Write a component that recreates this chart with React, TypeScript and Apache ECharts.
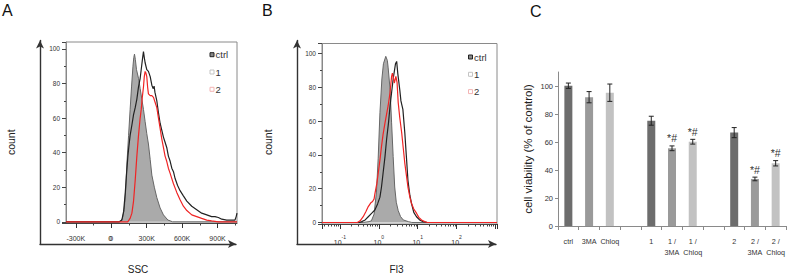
import React, { useEffect, useRef } from 'react';
import * as echarts from 'echarts';

// ---------- Panel A: SSC histograms (x in thousands) ----------
const sscCtrlX = [-383, 60, 80, 95, 110, 122, 133, 147, 160, 172, 184, 191, 197, 204, 214, 231, 245, 259, 273, 287, 301, 315, 330, 344, 365, 386, 414, 442, 480, 520, 1065];
const sscCtrlY = [0, 0, 0.5, 2, 7, 18, 34, 50, 65, 78, 90, 95, 97, 94, 88, 83, 77, 71, 65, 58, 51, 45, 36, 27, 20, 14, 8, 4, 1, 0, 0];
const ssc1X = [-383, 70, 90, 105, 118, 130, 141, 150, 160, 175, 189, 203, 217, 231, 245, 259, 266, 273, 280, 287, 301, 315, 330, 344, 356, 363, 370, 386, 400, 414, 428, 442, 456, 470, 484, 499, 513, 527, 541, 562, 583, 611, 640, 682, 724, 766, 809, 850, 879, 907, 936, 978, 1020, 1048, 1058, 1065];
const ssc1Y = [0, 0, 1, 6, 16, 28, 38, 44, 50, 56, 62, 66, 71, 78, 83, 91, 95, 98.5, 95, 92, 88, 87, 84, 79, 77, 78.5, 75, 70, 63, 57, 53, 49, 46, 43, 38, 35, 31, 29, 25, 21, 18, 15, 12, 9, 7, 5, 4, 3, 3, 2.5, 1.5, 1, 1, 1, 3, 5];
const ssc2X = [-383, 140, 160, 175, 189, 203, 217, 231, 245, 254, 263, 273, 280, 287, 294, 301, 308, 315, 330, 344, 358, 372, 386, 400, 414, 428, 442, 456, 470, 484, 499, 513, 527, 555, 583, 611, 640, 682, 724, 766, 809, 850, 907, 1065];
const ssc2Y = [0, 0, 2, 5, 12, 24, 38, 50, 60, 65, 72, 78, 84, 87, 86, 84, 78, 74, 73, 73, 72, 69, 66, 60, 54, 48, 43, 38, 35, 31, 28, 25, 22, 17, 12.7, 9, 6.5, 4, 3, 2, 1, 0.5, 0, 0];
const sscTicks = [-300, 0, 300, 600, 900];

// ---------- Panel B: Fl3 histograms (log intensity) ----------
const flCtrlX = [0.0347, 0.398, 0.562, 0.646, 0.759, 0.871, 0.966, 1.072, 1.202, 1.318, 1.514, 1.66, 1.738, 1.95, 2.138, 2.344, 2.57, 2.818, 3.162, 3.631, 4.266, 5.754, 7.079, 1096];
const flCtrlY = [0, 0, 0.5, 1, 5, 18, 38, 65, 85, 94, 98.4, 96, 92, 79, 59, 39, 21, 12, 7, 3.5, 1.5, 0.5, 0, 0];
const fl1X = [0.0347, 0.316, 0.363, 0.447, 0.537, 0.661, 0.794, 0.933, 1.072, 1.175, 1.288, 1.445, 1.585, 1.778, 1.95, 2.138, 2.344, 2.57, 2.692, 2.884, 3.09, 3.467, 3.715, 3.89, 4.169, 4.677, 5.129, 5.623, 6.31, 6.918, 7.943, 9.333, 11.22, 13.8, 17.78, 1096];
const fl1Y = [0, 0, 0.5, 1.5, 3.4, 5.5, 7.4, 11, 15, 21, 29, 39, 49, 59, 69, 77, 85, 91, 94, 95.4, 88, 78.6, 72, 70, 67, 53, 39, 25, 16, 11.4, 6, 3.4, 1.5, 0.5, 0, 0];
const fl2X = [0.0347, 0.282, 0.331, 0.398, 0.468, 0.537, 0.617, 0.692, 0.759, 0.794, 0.891, 0.966, 1.072, 1.175, 1.288, 1.445, 1.585, 1.738, 1.95, 2.138, 2.239, 2.399, 2.512, 2.754, 2.951, 3.162, 3.467, 3.89, 4.266, 4.677, 5.129, 5.623, 6.31, 6.918, 7.943, 9.333, 10.72, 12.59, 15.14, 17.78, 1096];
const fl2Y = [0, 0, 1, 3.4, 6.5, 9.4, 11.5, 12.4, 14, 17, 23, 29, 37, 45, 52, 59, 64, 69, 77, 86.5, 88.5, 85, 82.6, 86.5, 83, 71, 62, 53, 44, 35, 28, 21, 15, 11.4, 8, 5.5, 3, 1.5, 0.5, 0, 0];
const flDecades = [-1, 0, 1, 2];

// ---------- Panel C: cell viability ----------
const cCategories = ['ctrl', '3MA', 'Chloq', '', '1', '1 /\n3MA', '1 /\nChloq', '', '2', '2 /\n3MA', '2 /\nChloq'];
const cMeans: (number | null)[] = [100.2, 92, 95.2, null, 75.2, 55.5, 60.2, null, 66.7, 33.6, 44.8];
const cErrors: (number | null)[] = [1.9, 4, 6.2, null, 3.2, 1.7, 1.7, null, 3.6, 1.3, 1.9];
const cMarks = ['', '', '', '', '', '*#', '*#', '', '', '*#', '*#'];
const cShade = [0, 1, 2, -1, 0, 1, 2, -1, 0, 1, 2];

const legendNames = ['ctrl', '1', '2'];

const FONT = "'Liberation Sans', Arial, sans-serif";

const zip = (xs: number[], ys: number[]) => xs.map((x, i) => [x, ys[i]]);

function arrowGrid(gridIndex: number, xName: string, yName: string) {
  const line = { show: true, symbol: ['none', 'arrow'], symbolSize: [6, 8], lineStyle: { color: '#333', width: 1.4 }, onZero: false };
  return {
    x: {
      gridIndex, type: 'value', min: 0, max: 1, axisLine: line, axisTick: { show: false }, axisLabel: { show: false }, splitLine: { show: false },
      name: xName, nameLocation: 'middle', nameGap: 20, nameTextStyle: { fontSize: 10, color: '#222', fontFamily: FONT },
    },
    y: {
      gridIndex, type: 'value', min: 0, max: 1, axisLine: line, axisTick: { show: false }, axisLabel: { show: false }, splitLine: { show: false },
      name: yName, nameLocation: 'middle', nameGap: 24, nameRotate: 90, nameTextStyle: { fontSize: 10.5, color: '#222', fontFamily: FONT },
    },
  };
}

function histYAxis(gridIndex: number, min: number, max: number) {
  return {
    gridIndex, type: 'value', min, max, splitNumber: 5,
    axisLine: { show: true, onZero: false, lineStyle: { color: '#888' } },
    axisTick: { show: true, length: 4, lineStyle: { color: '#444' } },
    minorTick: { show: true, splitNumber: 2, length: 2, lineStyle: { color: '#444' } },
    axisLabel: {
      fontSize: 6.5, color: '#333', margin: 6, fontFamily: FONT,
      formatter: (v: number) => (Math.abs(v - Math.round(v)) < 1e-6 && Math.round(v) % 20 === 0 ? String(Math.abs(Math.round(v))) : ''),
    },
    splitLine: { show: false },
  };
}

function legendGraphics(prefix: string, x: number, y: number) {
  const styles = [
    { fill: '#888', stroke: '#222' },
    { fill: '#fff', stroke: '#c4c4c4' },
    { fill: '#fff', stroke: '#f3b4b4' },
  ];
  const out: any[] = [];
  legendNames.forEach((n, i) => {
    const cy = y + i * 17.3;
    out.push({ id: `${prefix}-icon-${i}`, type: 'rect', shape: { x, y: cy - 2, width: 4, height: 4 }, style: { ...styles[i], lineWidth: 1 } });
    out.push({ id: `${prefix}-text-${i}`, type: 'text', x: x + 5.5, y: cy, style: { text: n, fontSize: 9.5, fill: '#333', fontFamily: FONT, verticalAlign: 'middle', align: 'left' } });
  });
  return out;
}

export default function App() {
  const ref = useRef<HTMLDivElement>(null);
  useEffect(() => {
    const chart = echarts.init(ref.current!, null, { renderer: 'svg' });
    const aArrow = arrowGrid(1, 'SSC', 'count');
    const bArrow = arrowGrid(3, 'Fl3', 'count');
    const shades = ['#6d6d6d', '#9a9a9a', '#c2c2c2'];
    const aGridBottom = 42 + 181;
    const aLabelMargin = 12;

    const option: any = {
      animation: false,
      textStyle: { fontFamily: FONT },
      grid: [
        { left: 66, top: 42, width: 171, height: 181, show: true, borderColor: '#8a8a8a', borderWidth: 1, backgroundColor: 'transparent' },
        { left: 40, top: 40.5, width: 196, height: 209.5 },
        { left: 322, top: 43.5, width: 175, height: 180.5, show: true, borderColor: '#8a8a8a', borderWidth: 1, backgroundColor: 'transparent' },
        { left: 297, top: 40.5, width: 199, height: 209.5 },
        { left: 558, top: 72, width: 229, height: 154 },
      ],
      xAxis: [
        {
          gridIndex: 0, type: 'value', min: -383, max: 1065, splitNumber: 5,
          axisLine: { show: true, onZero: false, lineStyle: { color: '#444' } },
          axisTick: { show: true, length: 5, customValues: sscTicks, lineStyle: { color: '#333' } },
          minorTick: { show: true, splitNumber: 2, length: 2.5, lineStyle: { color: '#444' } },
          axisLabel: {
            fontSize: 7, color: '#333', margin: aLabelMargin, fontFamily: FONT, customValues: sscTicks, hideOverlap: false,
            formatter: (v: number) => { const r = Math.round(v); return r === 0 ? '0' : `${r}K`; },
          },
          splitLine: { show: false },
        },
        aArrow.x,
        {
          gridIndex: 2, type: 'log', logBase: 10, min: 0.0347, max: 1096,
          axisLine: { show: true, onZero: false, lineStyle: { color: '#444' } },
          axisTick: { show: true, length: 5, lineStyle: { color: '#333' } },
          minorTick: { show: true, splitNumber: 9, length: 2.5, lineStyle: { color: '#444' } },
          axisLabel: {
            color: '#333', margin: 10, fontFamily: FONT,
            formatter: (v: number) => {
              const l = Math.log10(v); const e = Math.round(l);
              if (Math.abs(l - e) > 1e-6 || flDecades.indexOf(e) < 0) return '';
              return `{b|10}{s|${e}}`;
            },
            rich: {
              b: { fontSize: 7, lineHeight: 12, verticalAlign: 'bottom', color: '#333' },
              s: { fontSize: 5, lineHeight: 12, verticalAlign: 'top', color: '#333' },
            },
          },
          splitLine: { show: false },
        },
        bArrow.x,
        {
          gridIndex: 4, type: 'category', data: cCategories,
          axisLine: { show: true, lineStyle: { color: '#8a8a8a' } },
          axisTick: { show: true, length: 4, lineStyle: { color: '#8a8a8a' } },
          axisLabel: { interval: 0, fontSize: 7.2, lineHeight: 11, color: '#333', margin: 10, fontFamily: FONT },
        },
      ],
      yAxis: [
        histYAxis(0, -0.7, 104),
        aArrow.y,
        histYAxis(2, -0.9, 106),
        bArrow.y,
        {
          gridIndex: 4, type: 'value', min: 0, max: 110, interval: 20,
          axisLine: { show: true, lineStyle: { color: '#8a8a8a' } },
          axisTick: { show: true, length: 3, lineStyle: { color: '#8a8a8a' } },
          axisLabel: { fontSize: 7.5, color: '#333', margin: 5, fontFamily: FONT, showMaxLabel: false, formatter: (v: number) => (v % 20 === 0 ? String(v) : '') },
          splitLine: { show: false },
          name: 'cell viability (% of control)', nameLocation: 'middle', nameGap: 24, nameRotate: 90,
          nameTextStyle: { fontSize: 11.5, color: '#222', fontFamily: FONT },
        },
      ],
      series: [
        { type: 'line', name: 'ctrl', xAxisIndex: 0, yAxisIndex: 0, data: zip(sscCtrlX, sscCtrlY), symbol: 'none', lineStyle: { color: '#666', width: 1 }, areaStyle: { color: '#aaaaaa', opacity: 1 }, z: 2 },
        { type: 'line', name: '1', xAxisIndex: 0, yAxisIndex: 0, data: zip(ssc1X, ssc1Y), symbol: 'none', lineStyle: { color: '#222', width: 1.2 }, z: 3 },
        { type: 'line', name: '2', xAxisIndex: 0, yAxisIndex: 0, data: zip(ssc2X, ssc2Y), symbol: 'none', lineStyle: { color: '#f02424', width: 1.2 }, z: 4 },
        { type: 'line', name: 'ctrl', xAxisIndex: 2, yAxisIndex: 2, data: zip(flCtrlX, flCtrlY), symbol: 'none', lineStyle: { color: '#666', width: 1 }, areaStyle: { color: '#aaaaaa', opacity: 1 }, z: 2 },
        { type: 'line', name: '1', xAxisIndex: 2, yAxisIndex: 2, data: zip(fl1X, fl1Y), symbol: 'none', lineStyle: { color: '#222', width: 1.2 }, z: 3 },
        { type: 'line', name: '2', xAxisIndex: 2, yAxisIndex: 2, data: zip(fl2X, fl2Y), symbol: 'none', lineStyle: { color: '#f02424', width: 1.2 }, z: 4 },
        {
          type: 'bar', xAxisIndex: 4, yAxisIndex: 4, barWidth: 8,
          data: cMeans.map((v, i) => (v == null ? '-' : { value: v, itemStyle: { color: shades[cShade[i]] } })),
        },
        {
          type: 'custom', xAxisIndex: 4, yAxisIndex: 4, z: 5,
          data: cMeans.map((v, i) => (v == null ? null : [i, v, cErrors[i] as number])).filter((d) => d !== null),
          renderItem: (params: any, api: any) => {
            const idx = api.value(0); const m = api.value(1); const e = api.value(2);
            const top = api.coord([idx, m + e]); const bot = api.coord([idx, m - e]);
            const hw = 2.5; const st = { stroke: '#222', lineWidth: 1 };
            const children: any[] = [
              { type: 'line', shape: { x1: top[0], y1: top[1], x2: bot[0], y2: bot[1] }, style: st },
              { type: 'line', shape: { x1: top[0] - hw, y1: top[1], x2: top[0] + hw, y2: top[1] }, style: st },
              { type: 'line', shape: { x1: bot[0] - hw, y1: bot[1], x2: bot[0] + hw, y2: bot[1] }, style: st },
            ];
            if (cMarks[idx]) {
              children.push({ type: 'text', x: top[0], y: top[1] - 2, style: { text: cMarks[idx], fontSize: 10.5, fill: '#333', fontFamily: FONT, align: 'center', verticalAlign: 'bottom' } });
            }
            return { type: 'group', children };
          },
        },
      ],
      graphic: {
        elements: [
          { id: 'panel-A', type: 'text', x: 2, y: 10.5, style: { text: 'A', fontSize: 16, fill: '#111', fontFamily: FONT, verticalAlign: 'middle', align: 'left' } },
          { id: 'panel-B', type: 'text', x: 262, y: 10.5, style: { text: 'B', fontSize: 16, fill: '#111', fontFamily: FONT, verticalAlign: 'middle', align: 'left' } },
          { id: 'panel-C', type: 'text', x: 530, y: 11, style: { text: 'C', fontSize: 16, fill: '#111', fontFamily: FONT, verticalAlign: 'middle', align: 'left' } },
          ...legendGraphics('a', 210, 54.7),
          ...legendGraphics('b', 468.5, 57),
        ],
      },
    };
    chart.setOption(option);

    // the zero tick label of the SSC axis does not show; place it at the grid's own pixel for x = 0
    try {
      const pt = chart.convertToPixel({ gridIndex: 0 }, [0, 0]) as unknown as number[];
      const zeroX = Array.isArray(pt) ? pt[0] : NaN;
      if (isFinite(zeroX)) {
        chart.setOption({
          graphic: {
            elements: [
              { id: 'ssc-zero-label', type: 'text', z: 100, x: zeroX, y: aGridBottom + aLabelMargin, style: { text: '0 ', fontSize: 7, fill: '#333', fontFamily: FONT, align: 'center', verticalAlign: 'top' } },
            ],
          },
        });
      }
    } catch (err) {
      // ignore
    }
    return () => chart.dispose();
  }, []);
  return <div ref={ref} style={{ position: 'fixed', left: 0, top: 0, width: 788, height: 279, background: '#fff' }} />;
}
